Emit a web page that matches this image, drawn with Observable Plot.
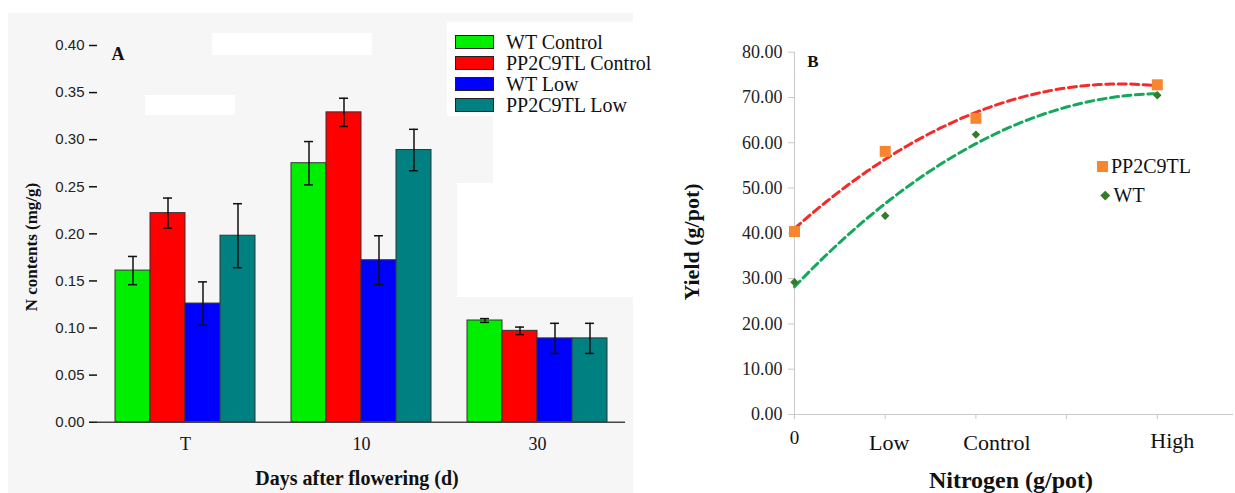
<!DOCTYPE html>
<html><head><meta charset="utf-8">
<script src="https://cdn.jsdelivr.net/npm/d3@7"></script>
<script src="https://cdn.jsdelivr.net/npm/@observablehq/plot@0.6"></script>
<style>
body{margin:0;background:#fff;}
#wrap{position:relative;width:1235px;height:493px;overflow:hidden;background:#fff;font-family:"Liberation Serif","Times New Roman",serif;color:#111;}
.abs{position:absolute;}
.panelA{left:0;top:0;}
.panelB{left:640px;top:0;}
.title{position:absolute;font-weight:bold;white-space:nowrap;transform:translate(-50%,-50%);line-height:1;font-family:"Liberation Serif","Times New Roman",serif;}
.vtitle{position:absolute;font-weight:bold;white-space:nowrap;transform:translate(-50%,-50%) rotate(-90deg);line-height:1;font-family:"Liberation Serif","Times New Roman",serif;}
.legrow{position:absolute;display:flex;align-items:center;height:22px;white-space:nowrap;font-size:20px;line-height:1;font-family:"Liberation Serif","Times New Roman",serif;color:#111;}
.sw{width:37px;height:12px;border:1px solid #222;margin-right:12px;}
</style></head><body><div id="wrap"></div><script>
// ---------- Panel A data ----------
const groups = ["T", "10", "30"];
const seriesNames = ["WT Control", "PP2C9TL Control", "WT Low", "PP2C9TL Low"];
const seriesColors = ["#00ee00", "#ff0000", "#0000ff", "#008080"];
const wtControl = [0.161, 0.275, 0.108];
const ppControl = [0.222, 0.329, 0.097];
const wtLow = [0.126, 0.172, 0.089];
const ppLow = [0.198, 0.289, 0.089];
const wtControlErr = [0.015, 0.023, 0.002];
const ppControlErr = [0.016, 0.015, 0.004];
const wtLowErr = [0.023, 0.026, 0.016];
const ppLowErr = [0.034, 0.022, 0.016];
const yTicksA = [0, 0.05, 0.10, 0.15, 0.20, 0.25, 0.30, 0.35, 0.40];

// ---------- Panel B data ----------
const nitrogenLabels = ["0", "Low", "Control", "High"];
const nitrogenX = [0, 1, 2, 4];
const ppYield = [40.4, 58.1, 65.4, 72.8];
const wtYield = [29.2, 43.9, 61.8, 70.5];
const yTicksB = [0, 10, 20, 30, 40, 50, 60, 70, 80];
const xTicksB = [0, 1, 2, 3, 4];
const lineNames = ["PP2C9TL", "WT"];

const wrap = document.getElementById("wrap");
const serif = "'Liberation Serif','Times New Roman',serif";
const sans = "'Liberation Sans',Arial,sans-serif";

function box(l, t, w, h, bg) {
  const d = document.createElement("div");
  d.className = "abs";
  Object.assign(d.style, {left: l + "px", top: t + "px", width: w + "px", height: h + "px", background: bg});
  wrap.appendChild(d);
}
box(8, 13, 625, 480, "#f6f6f6");
box(447, 22, 213, 94, "#ffffff");
box(493, 116, 140, 67, "#ffffff");
box(457, 183, 188, 114, "#ffffff");
box(212, 33, 160, 22, "#ffffff");
box(145, 95, 90, 20, "#ffffff");

const seriesVals = [wtControl, ppControl, wtLow, ppLow];
const seriesErrs = [wtControlErr, ppControlErr, wtLowErr, ppLowErr];
const rowsA = [];
groups.forEach((g, gi) => seriesNames.forEach((s, si) => {
  rowsA.push({group: g, series: s, value: seriesVals[si][gi], err: seriesErrs[si][gi]});
}));

const plotA = Plot.plot({
  width: 640, height: 493,
  marginLeft: 97, marginRight: 15, marginTop: 45, marginBottom: 71.3,
  style: {background: "transparent", overflow: "visible"},
  fx: {domain: groups, padding: 0, label: null},
  x: {domain: seriesNames, paddingInner: 0, paddingOuter: 0.514, axis: null},
  y: {domain: [0, 0.4], label: null},
  color: {domain: seriesNames, range: seriesColors},
  marks: [
    Plot.barY(rowsA, {fx: "group", x: "series", y: "value", fill: "series", stroke: "#333", strokeWidth: 1}),
    Plot.ruleX(rowsA, {fx: "group", x: "series", y1: d => d.value - d.err, y2: d => d.value + d.err, stroke: "#111", strokeWidth: 1.5}),
    Plot.tickY(rowsA, {fx: "group", x: "series", y: d => d.value + d.err, insetLeft: 13, insetRight: 13, stroke: "#111", strokeWidth: 1.5}),
    Plot.tickY(rowsA, {fx: "group", x: "series", y: d => d.value - d.err, insetLeft: 13, insetRight: 13, stroke: "#111", strokeWidth: 1.5}),
    Plot.ruleY([0], {stroke: "#444", strokeWidth: 1.5}),
    Plot.axisY({ticks: yTicksA, tickFormat: d3.format(".2f"), tickSize: 8, tickPadding: 5, line: true,
      stroke: "#111", strokeWidth: 1.5, color: "#222", fontFamily: sans, fontSize: 15, label: null}),
    Plot.axisFx({anchor: "bottom", tickSize: 0, tickPadding: 15, fontFamily: serif, fontSize: 18, color: "#111", label: null})
  ]
});
const divA = document.createElement("div");
divA.className = "abs panelA";
divA.appendChild(plotA);
wrap.appendChild(divA);

// ---------- Panel B ----------
function quadFit(xs, ys) {
  let n = xs.length, s1 = 0, s2 = 0, s3 = 0, s4 = 0, t0 = 0, t1 = 0, t2 = 0;
  xs.forEach((x, i) => {const y = ys[i]; s1 += x; s2 += x * x; s3 += x ** 3; s4 += x ** 4; t0 += y; t1 += x * y; t2 += x * x * y;});
  const M = [[n, s1, s2, t0], [s1, s2, s3, t1], [s2, s3, s4, t2]];
  for (let i = 0; i < 3; i++) {
    for (let k = i + 1; k < 3; k++) {
      const f = M[k][i] / M[i][i];
      for (let j = i; j < 4; j++) M[k][j] -= f * M[i][j];
    }
  }
  const c = [0, 0, 0];
  for (let i = 2; i >= 0; i--) {
    let s = M[i][3];
    for (let j = i + 1; j < 3; j++) s -= M[i][j] * c[j];
    c[i] = s / M[i][i];
  }
  return x => c[0] + c[1] * x + c[2] * x * x;
}
const fitPP = quadFit(nitrogenX, ppYield);
const fitWT = quadFit(nitrogenX, wtYield);
const xs = d3.range(0, 4.0001, 0.05);
const trendPP = xs.map(x => ({x, y: fitPP(x)}));
const trendWT = xs.map(x => ({x, y: fitWT(x)}));
const ptsPP = nitrogenX.map((x, i) => ({x, y: ppYield[i]}));
const ptsWT = nitrogenX.map((x, i) => ({x, y: wtYield[i]}));

const gray = "#c9c9c9";
const labelNudgeX = [0, 4, 21, 15];
const labelNudgeY = [23, 28, 28, 26];
const labelSize = [19, 22, 22, 22];

const plotB = Plot.plot({
  width: 595, height: 493,
  marginLeft: 154, marginRight: 2, marginTop: 51.7, marginBottom: 79,
  style: {background: "transparent", overflow: "visible"},
  x: {type: "linear", domain: [0, 4.84], label: null},
  y: {type: "linear", domain: [0, 80], label: null},
  marks: [
    Plot.ruleY([0], {stroke: gray, strokeWidth: 1}),
    Plot.ruleX([0], {stroke: gray, strokeWidth: 1}),
    Plot.axisY({ticks: yTicksB, tickFormat: d3.format(".2f"), tickSize: 6, tickPadding: 6, stroke: gray,
      color: "#222", fontFamily: serif, fontSize: 18, label: null}),
    Plot.axisX({ticks: xTicksB, tickSize: 5, stroke: gray, tickFormat: () => "", label: null}),
    Plot.line(trendPP, {x: "x", y: "y", stroke: "#f52a2a", strokeWidth: 3, strokeDasharray: "8,4.5"}),
    Plot.line(trendWT, {x: "x", y: "y", stroke: "#14a85c", strokeWidth: 3, strokeDasharray: "8,4.5"}),
    Plot.dot(ptsPP, {x: "x", y: "y", symbol: "square", r: 6.2, fill: "#f7862f", stroke: "none"}),
    Plot.dot(ptsWT, {x: "x", y: "y", symbol: "diamond2", r: 3.8, fill: "#367a2a", stroke: "none"}),
    ...nitrogenLabels.map((lab, i) => Plot.text([lab], {x: nitrogenX[i], y: 0, text: d => d, dx: labelNudgeX[i], dy: labelNudgeY[i],
      fontFamily: serif, fontSize: labelSize[i], fill: "#111", lineAnchor: "middle"}))
  ]
});
const divB = document.createElement("div");
divB.className = "abs panelB";
divB.appendChild(plotB);
wrap.appendChild(divB);

// ---------- titles & legends ----------
function addText(cls, txt, x, y, size) {
  const d = document.createElement("div");
  d.className = cls;
  d.textContent = txt;
  Object.assign(d.style, {left: x + "px", top: y + "px", fontSize: size + "px"});
  wrap.appendChild(d);
}
addText("title", "A", 118, 54, 18);
addText("title", "Days after flowering (d)", 357, 478, 20);
addText("vtitle", "N contents (mg/g)", 31, 247, 17);
addText("title", "B", 813, 61, 17);
addText("title", "Nitrogen (g/pot)", 1011, 480, 24);
addText("vtitle", "Yield (g/pot)", 692, 242, 22);

const legTops = [31, 52, 73, 94];
seriesNames.forEach((s, i) => {
  const r = document.createElement("div");
  r.className = "legrow";
  Object.assign(r.style, {left: "455px", top: legTops[i] + "px"});
  const sw = document.createElement("div");
  sw.className = "sw";
  sw.style.background = seriesColors[i];
  r.appendChild(sw);
  const t = document.createElement("span");
  t.textContent = s;
  r.appendChild(t);
  wrap.appendChild(r);
});

const legB = [
  {name: lineNames[0], color: "#f7862f", shape: "square", top: 155},
  {name: lineNames[1], color: "#367a2a", shape: "diamond", top: 184}
];
legB.forEach(l => {
  const r = document.createElement("div");
  r.className = "legrow";
  Object.assign(r.style, {left: (l.shape === "square" ? 1097 : 1102) + "px", top: l.top + "px", fontSize: "20px"});
  const sw = document.createElement("div");
  if (l.shape === "square") {
    Object.assign(sw.style, {width: "11px", height: "11px", background: l.color, marginRight: "3px"});
  } else {
    Object.assign(sw.style, {width: "6.5px", height: "6.5px", background: l.color, transform: "rotate(45deg)", marginRight: "5px"});
  }
  r.appendChild(sw);
  const t = document.createElement("span");
  t.textContent = l.name;
  r.appendChild(t);
  wrap.appendChild(r);
});
</script></body></html>
